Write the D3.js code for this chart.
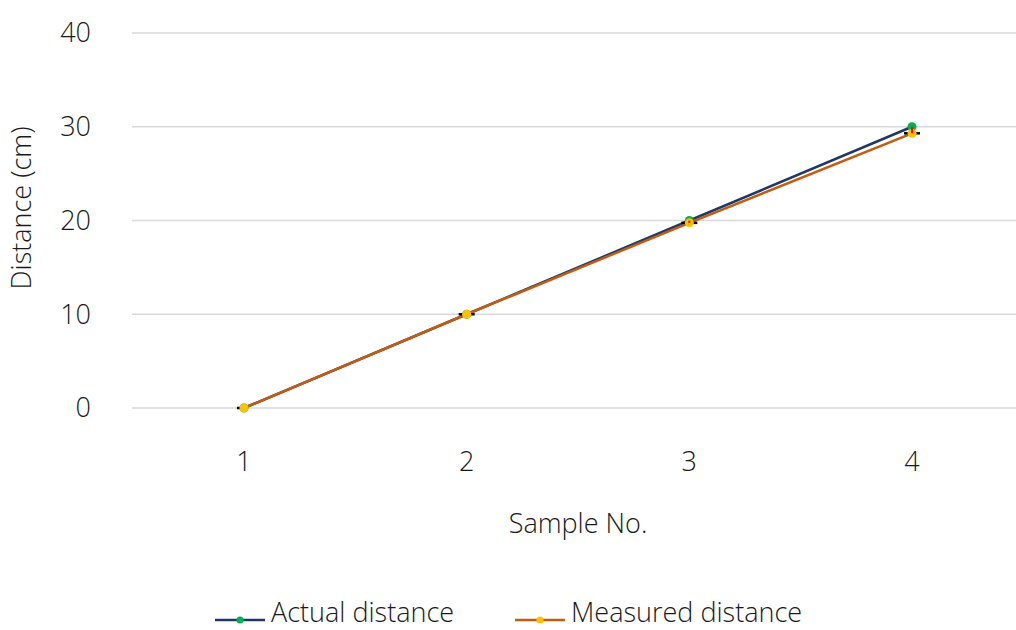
<!DOCTYPE html>
<html>
<head>
<meta charset="utf-8">
<script src="https://cdn.jsdelivr.net/npm/d3@7"></script>
<style>
  body { margin: 0; background: #fff; }
  text { font-family: "Open Sans", "Noto Sans", sans-serif; fill: #1a1a1a; font-weight: 300; }
</style>
</head>
<body>
<div id="chart"></div>
<script>
const samples = ["1", "2", "3", "4"];
const actual = [0, 10, 20, 30];
const measured = [0, 10, 19.75, 29.3];
const yTicks = [0, 10, 20, 30, 40];
const seriesNames = ["Actual distance", "Measured distance"];

const width = 1016, height = 630;

const svg = d3.select("#chart").append("svg")
    .attr("width", width)
    .attr("height", height);

const x = d3.scalePoint().domain(samples).range([244, 912]);
const y = d3.scaleLinear().domain([0, 40]).range([408, 33]);

// gridlines
svg.append("g")
    .selectAll("line")
    .data(yTicks)
    .enter().append("line")
    .attr("x1", 132).attr("x2", width)
    .attr("y1", d => y(d)).attr("y2", d => y(d))
    .attr("stroke", "#d9d9d9").attr("stroke-width", 1.5);

// y tick labels
svg.append("g")
    .selectAll("text")
    .data(yTicks)
    .enter().append("text")
    .attr("x", 91).attr("y", d => y(d))
    .attr("dy", "0.35em")
    .attr("text-anchor", "end")
    .style("font-size", "27px")
    .text(d => d);

// x tick labels
svg.append("g")
    .selectAll("text")
    .data(samples)
    .enter().append("text")
    .attr("x", d => x(d)).attr("y", 462)
    .attr("dy", "0.35em")
    .attr("text-anchor", "middle")
    .style("font-size", "27px")
    .text(d => d);

// axis titles
svg.append("text")
    .attr("x", 578).attr("y", 524).attr("dy", "0.35em")
    .attr("text-anchor", "middle")
    .style("font-size", "27px")
    .text("Sample No.");

svg.append("text")
    .attr("transform", "translate(22,208) rotate(-90)")
    .attr("dy", "0.35em")
    .attr("text-anchor", "middle")
    .style("font-size", "27px")
    .text("Distance (cm)");

const line = d3.line().x((d, i) => x(samples[i])).y(d => y(d));

svg.append("path").datum(actual)
    .attr("d", line).attr("fill", "none")
    .attr("stroke", "#1f3864").attr("stroke-width", 2.5);

svg.append("path").datum(measured)
    .attr("d", line).attr("fill", "none")
    .attr("stroke", "#c55a11").attr("stroke-width", 2.5);

// black horizontal error bars on measured points
svg.append("g")
    .selectAll("line")
    .data(measured)
    .enter().append("line")
    .attr("x1", (d, i) => x(samples[i]) - (i == 0 ? 7 : 8))
    .attr("x2", (d, i) => x(samples[i]) + (i == 0 ? 0 : 8))
    .attr("y1", d => y(d)).attr("y2", d => y(d))
    .attr("stroke", "#000").attr("stroke-width", 2.5);

// markers
svg.append("g")
    .selectAll("circle")
    .data(actual)
    .enter().append("circle")
    .attr("cx", (d, i) => x(samples[i])).attr("cy", d => y(d))
    .attr("r", 4.5).attr("fill", "#00b050");

svg.append("g")
    .selectAll("circle")
    .data(measured)
    .enter().append("circle")
    .attr("cx", (d, i) => x(samples[i])).attr("cy", d => y(d))
    .attr("r", 4.5).attr("fill", "#ffc000");

// red vertical error bars (measured -> actual)
svg.append("g")
    .selectAll("line")
    .data(measured)
    .enter().append("line")
    .attr("x1", (d, i) => x(samples[i])).attr("x2", (d, i) => x(samples[i]))
    .attr("y1", d => y(d)).attr("y2", (d, i) => y(actual[i]))
    .attr("stroke", "#ff0000").attr("stroke-width", 2);

// legend
const legendColors = [["#1f3864", "#00b050"], ["#c55a11", "#ffc000"]];
const legendX = [215, 515];
const legend = svg.append("g")
    .selectAll("g")
    .data(seriesNames)
    .enter().append("g")
    .attr("transform", (d, i) => "translate(" + legendX[i] + ",620)");

legend.append("line")
    .attr("x1", 0).attr("x2", 50)
    .attr("stroke", (d, i) => legendColors[i][0]).attr("stroke-width", 2.5);
legend.append("circle")
    .attr("cx", 25).attr("r", 3.5)
    .attr("fill", (d, i) => legendColors[i][1]);
legend.append("text")
    .attr("x", 56).attr("y", -7).attr("dy", "0.35em")
    .style("font-size", "27px")
    .text(d => d);
</script>
</body>
</html>
